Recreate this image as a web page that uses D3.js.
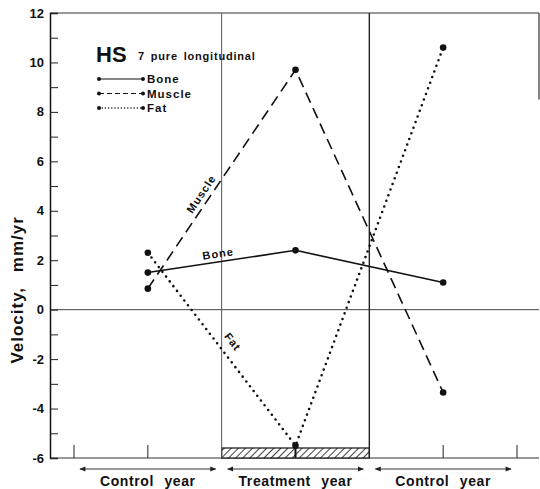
<!DOCTYPE html>
<html>
<head>
<meta charset="utf-8">
<script src="https://cdn.jsdelivr.net/npm/d3@7"></script>
<style>
  body { margin: 0; background: #fff; }
  text { font-family: "Liberation Sans", Arial, sans-serif; font-weight: bold; fill: #111; }
</style>
</head>
<body>
<div id="chart"></div>
<script>
// data
var periods = ["Control year", "Treatment year", "Control year"];
var visitX = [1, 3, 5];
var bone = [1.5, 2.4, 1.1];
var muscle = [0.85, 9.7, -3.35];
var fat = [2.3, -5.5, 10.6];
var yTicks = [-6, -4, -2, 0, 2, 4, 6, 8, 10, 12];
var xTicks = [0, 1, 3, 5, 6];
var dividers = [2, 4];

var svgWidth = 540, svgHeight = 489;
var svg = d3.select("#chart").append("svg")
  .attr("width", svgWidth)
  .attr("height", svgHeight);

var x = d3.scaleLinear().domain([0, 6]).range([74, 517]);
var y = d3.scaleLinear().domain([-6, 12]).range([458, 13]);
var left = x(-0.325), right = 539;

// hatch pattern
var defs = svg.append("defs");
var pat = defs.append("pattern")
  .attr("id", "hatch")
  .attr("patternUnits", "userSpaceOnUse")
  .attr("width", 5).attr("height", 5)
  .attr("patternTransform", "rotate(45)");
pat.append("rect").attr("width", 5).attr("height", 5).attr("fill", "#fff");
pat.append("line").attr("x1", 0).attr("y1", 0).attr("x2", 0).attr("y2", 5)
  .attr("stroke", "#111").attr("stroke-width", 1.6);

// frame
svg.append("line").attr("x1", left).attr("x2", right).attr("y1", y(12)).attr("y2", y(12))
  .attr("stroke", "#333").attr("stroke-width", 1.2);
svg.append("line").attr("x1", right).attr("x2", right).attr("y1", y(12)).attr("y2", y(8.5))
  .attr("stroke", "#333").attr("stroke-width", 1.2);
svg.append("line").attr("x1", left).attr("x2", right).attr("y1", y(-6)).attr("y2", y(-6))
  .attr("stroke", "#333").attr("stroke-width", 1.2);
svg.append("line").attr("x1", left).attr("x2", right).attr("y1", y(0)).attr("y2", y(0))
  .attr("stroke", "#444").attr("stroke-width", 1);

// y axis
var yAxis = d3.axisRight(y)
  .tickValues(d3.range(-6, 13, 1))
  .tickSize(8)
  .tickFormat("");
var ya = svg.append("g").attr("transform", "translate(" + left + ",0)").call(yAxis);
ya.select(".domain").attr("stroke", "#111").attr("stroke-width", 1.5);
ya.selectAll(".tick line").attr("stroke", "#222").attr("stroke-width", 1);

svg.selectAll(".ylab").data(yTicks).enter().append("text")
  .attr("class", "ylab")
  .attr("x", left - 6)
  .attr("y", d => y(d) + 4.5)
  .attr("text-anchor", "end")
  .attr("font-size", "13px")
  .text(d => d);

svg.append("text")
  .attr("transform", "translate(23," + y(0.8) + ") rotate(-90)")
  .attr("text-anchor", "middle")
  .attr("font-size", "17px")
  .attr("letter-spacing", "1px")
  .style("word-spacing", "9px")
  .text("Velocity, mm/yr");

// bottom ticks
svg.selectAll(".xtick").data(xTicks).enter().append("line")
  .attr("class", "xtick")
  .attr("x1", d => x(d)).attr("x2", d => x(d))
  .attr("y1", y(-6)).attr("y2", y(-6) - 13)
  .attr("stroke", "#222").attr("stroke-width", 1);

// treatment bar
svg.append("rect")
  .attr("x", x(2)).attr("width", x(4) - x(2))
  .attr("y", y(-6) - 10).attr("height", 10)
  .attr("fill", "url(#hatch)")
  .attr("stroke", "#111").attr("stroke-width", 1.2);
svg.append("line")
  .attr("x1", x(3)).attr("x2", x(3))
  .attr("y1", y(-5.5)).attr("y2", y(-6))
  .attr("stroke", "#111").attr("stroke-width", 2);

// dividers
svg.selectAll(".div").data(dividers).enter().append("line")
  .attr("x1", d => x(d)).attr("x2", d => x(d))
  .attr("y1", y(12)).attr("y2", y(-6))
  .attr("stroke", (d, i) => i === 0 ? "#555" : "#222")
  .attr("stroke-width", (d, i) => i === 0 ? 1 : 1.4);

// period arrows and labels
var arrows = svg.append("defs");
arrows.append("marker").attr("id", "arr").attr("viewBox", "0 0 10 10")
  .attr("refX", 9).attr("refY", 5).attr("markerWidth", 7).attr("markerHeight", 5)
  .attr("orient", "auto-start-reverse")
  .append("path").attr("d", "M0,1 L10,5 L0,9 Z").attr("fill", "#222");

periods.forEach(function(p, i) {
  var x0 = x(i * 2), x1 = x(i * 2 + 2);
  svg.append("line")
    .attr("x1", x0 + 6).attr("x2", x1 - 6)
    .attr("y1", 469).attr("y2", 469)
    .attr("stroke", "#333").attr("stroke-width", 1.2)
    .attr("marker-start", "url(#arr)").attr("marker-end", "url(#arr)");
  svg.append("text")
    .attr("x", (x0 + x1) / 2).attr("y", 486)
    .attr("text-anchor", "middle")
    .attr("font-size", "14px")
    .attr("letter-spacing", "0.6px")
    .style("word-spacing", "6px")
    .text(p);
});

// series
var series = [
  { name: "Bone", values: bone, dash: null, w: 1.6, cap: "butt" },
  { name: "Muscle", values: muscle, dash: "11,6", w: 1.6, cap: "butt" },
  { name: "Fat", values: fat, dash: "0,6", w: 2.6, cap: "round" }
];

var line = d3.line().x(d => x(d[0])).y(d => y(d[1]));

series.forEach(function(s) {
  var pts = visitX.map((vx, i) => [vx, s.values[i]]);
  svg.append("path")
    .attr("d", line(pts))
    .attr("fill", "none")
    .attr("stroke", "#111")
    .attr("stroke-width", s.w)
    .attr("stroke-linecap", s.cap)
    .attr("stroke-dasharray", s.dash);
  svg.selectAll(null).data(pts).enter().append("circle")
    .attr("cx", d => x(d[0])).attr("cy", d => y(d[1]))
    .attr("r", 3.3).attr("fill", "#111");
});

// in-plot labels along the first segments
function labelAt(vals, t, dx, dy, text) {
  var xa = x(visitX[0]), ya0 = y(vals[0]);
  var xb = x(visitX[1]), yb = y(vals[1]);
  var px = xa + (xb - xa) * t, py = ya0 + (yb - ya0) * t;
  var ang = Math.atan2(yb - ya0, xb - xa) * 180 / Math.PI;
  svg.append("text")
    .attr("transform", "translate(" + (px + dx) + "," + (py + dy) + ") rotate(" + ang + ")")
    .attr("text-anchor", "middle")
    .attr("font-size", "11px")
    .attr("letter-spacing", "1px")
    .text(text);
}
labelAt(muscle, 0.41, -4, -3, "Muscle");
labelAt(bone, 0.5, -3, -4, "Bone");
labelAt(fat, 0.5, 8, -5, "Fat");

// legend
var lg = svg.append("g");
lg.append("text").attr("x", 96).attr("y", 62).attr("font-size", "22px").text("HS");
lg.append("text").attr("x", 138).attr("y", 60).attr("font-size", "11px")
  .attr("letter-spacing", "0.8px").style("word-spacing", "2px")
  .text("7 pure longitudinal");
series.forEach(function(s, i) {
  var ly = 79 + i * 14.5;
  lg.append("line")
    .attr("x1", 99).attr("x2", 143).attr("y1", ly).attr("y2", ly)
    .attr("stroke", "#111")
    .attr("stroke-width", i === 2 ? 1.6 : 1.2)
    .attr("stroke-linecap", s.cap)
    .attr("stroke-dasharray", i === 0 ? null : (i === 1 ? "5,3" : "0,3.2"));
  lg.append("circle").attr("cx", 99).attr("cy", ly).attr("r", 2).attr("fill", "#111");
  lg.append("circle").attr("cx", 143).attr("cy", ly).attr("r", 2).attr("fill", "#111");
  lg.append("text").attr("x", 147).attr("y", ly + 4)
    .attr("font-size", "11.5px").attr("letter-spacing", "1px")
    .text(s.name);
});
</script>
</body>
</html>
